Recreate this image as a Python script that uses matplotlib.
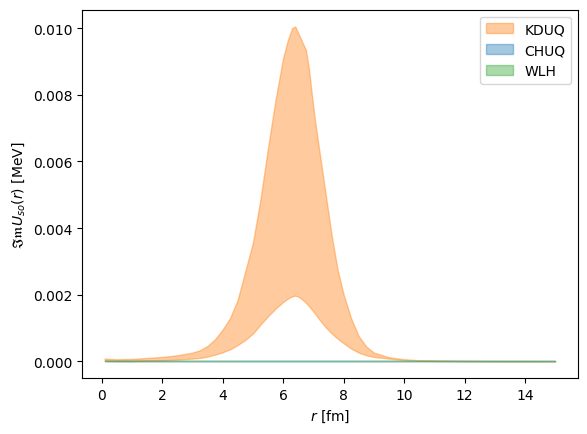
import numpy as np
import matplotlib
matplotlib.use('Agg')
import matplotlib.pyplot as plt

# radial grid [fm]
r = [0.1, 0.5, 1.0, 1.5, 2.0, 2.5, 3.0, 3.25, 3.5, 3.75, 4.0, 4.25, 4.5, 4.75,
     5.0, 5.25, 5.5, 5.75, 6.0, 6.15, 6.3, 6.4, 6.5, 6.6, 6.75, 6.85, 6.95,
     7.05, 7.2, 7.4, 7.6, 7.8, 8.0, 8.25, 8.5, 8.75, 9.0, 9.5, 10.0, 10.5,
     11.0, 12.0, 13.0, 14.0, 15.0]

# KDUQ band, in units of 1e-3 MeV
kduq_hi = [0.08, 0.06, 0.07, 0.10, 0.13, 0.18, 0.26, 0.33, 0.46, 0.66, 0.95,
           1.30, 1.85, 2.70, 3.55, 4.85, 6.40, 7.85, 9.10, 9.62, 10.00, 10.05,
           9.85, 9.65, 9.35, 8.80, 8.00, 7.25, 6.30, 5.05, 3.80, 2.75, 2.00,
           1.28, 0.75, 0.44, 0.26, 0.12, 0.06, 0.03, 0.02, 0.01, 0.005, 0.003,
           0.002]
kduq_lo = [0.02, 0.01, 0.01, 0.02, 0.03, 0.05, 0.08, 0.10, 0.14, 0.20, 0.27,
           0.36, 0.49, 0.64, 0.83, 1.10, 1.35, 1.58, 1.78, 1.88, 1.95, 1.97,
           1.94, 1.88, 1.76, 1.66, 1.55, 1.44, 1.25, 1.03, 0.84, 0.68, 0.54,
           0.38, 0.26, 0.18, 0.13, 0.08, 0.04, 0.02, 0.01, 0.005, 0.002, 0.002,
           0.002]

# CHUQ and WLH have no imaginary spin-orbit term
chuq_lo = [0.0] * len(r)
chuq_hi = [0.0] * len(r)
wlh_lo = [0.0] * len(r)
wlh_hi = [0.0] * len(r)

r = np.array(r)
fig, ax = plt.subplots(figsize=(5.87, 4.35), dpi=100)
fig.subplots_adjust(left=0.1397, right=0.9847, top=0.9754, bottom=0.1287)

ax.fill_between(r, np.array(kduq_lo) * 1e-3, np.array(kduq_hi) * 1e-3,
                color='C1', alpha=0.4, label='KDUQ')
ax.fill_between(r, np.array(chuq_lo) * 1e-3, np.array(chuq_hi) * 1e-3,
                color='C0', alpha=0.4, label='CHUQ')
ax.fill_between(r, np.array(wlh_lo) * 1e-3, np.array(wlh_hi) * 1e-3,
                color='C2', alpha=0.4, label='WLH')

ax.set_xlabel(r'$r$ [fm]')
ax.set_ylabel(r'$\mathfrak{Im}U_{so}(r)$ [MeV]')
ax.legend()

fig.savefig('out.png', dpi=100)
